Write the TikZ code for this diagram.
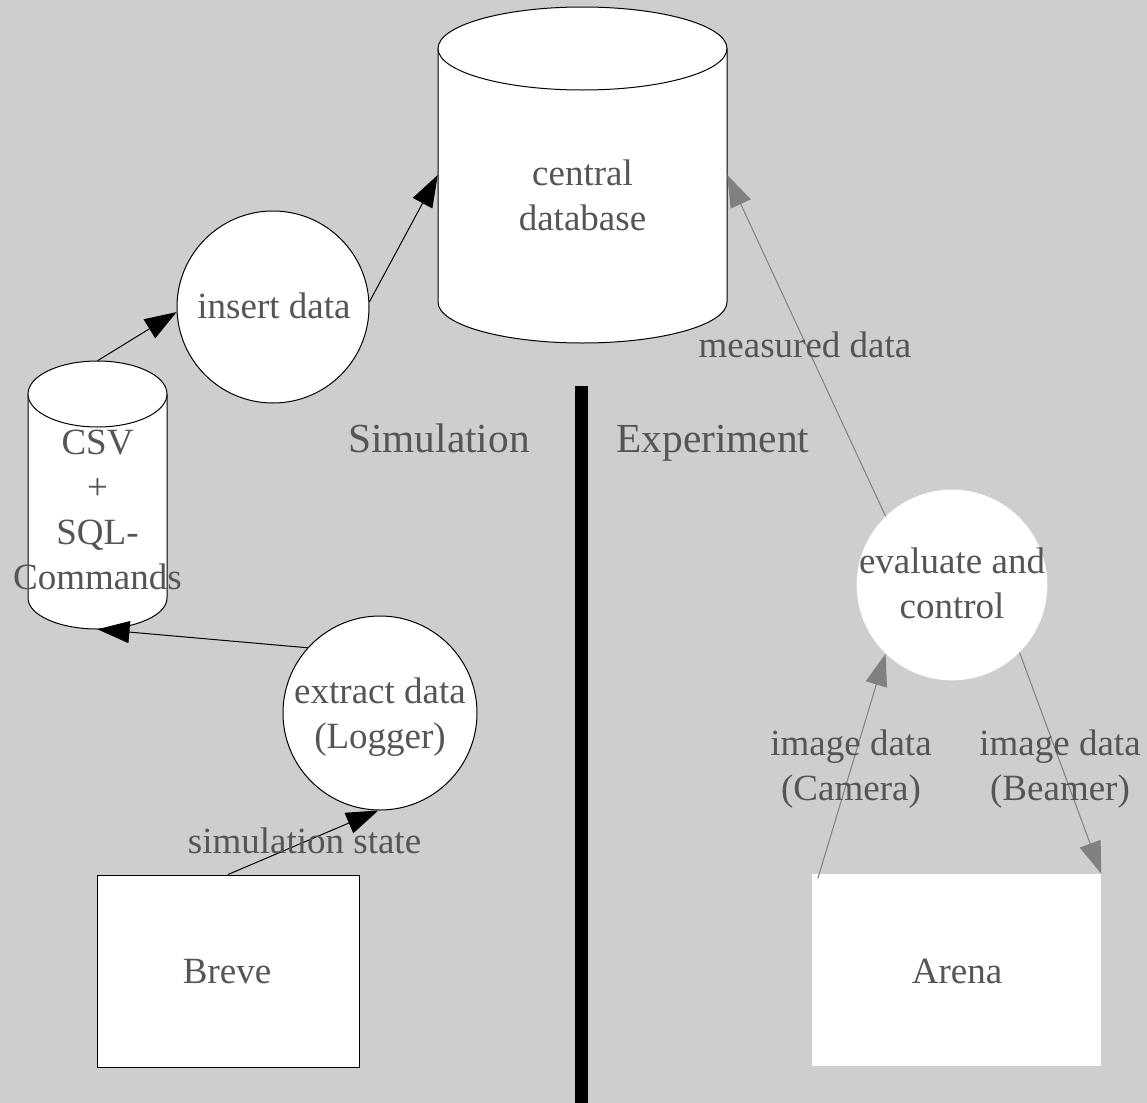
\documentclass[tikz,border=0pt]{standalone}
\usepackage{fontspec}
\setmainfont{Liberation Serif}
\usetikzlibrary{arrows.meta,calc}
\definecolor{bggray}{RGB}{206,206,206}
\definecolor{txtgray}{RGB}{85,85,85}
\definecolor{lngray}{RGB}{128,128,128}
\begin{document}
\begin{tikzpicture}[x=0.75pt,y=-0.75pt,
  lbl/.style={text=txtgray,font=\fontsize{27.75pt}{33.75pt}\selectfont,inner sep=0pt,align=center},
  big/.style={text=txtgray,font=\fontsize{31pt}{36pt}\selectfont,inner sep=0pt},
  shapebox/.style={draw=none,inner sep=0pt,rectangle},
  outl/.style={fill=white,draw=black,line width=0.75pt},
  circL/.style={circle,draw=black,fill=white,line width=0.75pt,inner sep=0pt},
  circR/.style={circle,draw=none,fill=white,inner sep=0pt},
  blk/.style={draw=black,line width=0.75pt,-{Triangle[length=24pt,width=16.5pt]}},
  gry/.style={draw=lngray,line width=0.75pt,-{Triangle[length=24pt,width=16.5pt]}}
]
% background
\fill[bggray] (0,0) rectangle (1147,1103);
\useasboundingbox (0,0) rectangle (1147,1103);

% central database cylinder
\node[shapebox, minimum width=216.75pt, minimum height=252pt] (db) at (582.5,175) {};
\filldraw[outl] (438,48.5) -- (438,302) arc[start angle=180,end angle=360,x radius=108.375pt,y radius=30.75pt] -- (727,48.5);
\filldraw[outl] (582.5,48.5) ellipse[x radius=108.375pt,y radius=31.125pt];

% CSV cylinder
\node[shapebox, minimum width=104.25pt, minimum height=201pt] (csv) at (97.5,495) {};
\filldraw[outl] (28,394) -- (28,598) arc[start angle=180,end angle=360,x radius=52.125pt,y radius=23.25pt] -- (167,394);
\filldraw[outl] (97.5,394) ellipse[x radius=52.125pt,y radius=24.75pt];

% circles
\node[circL, minimum size=144pt] (ins) at (273,307) {};
\node[circL, minimum size=145.5pt] (ex) at (380,713) {};
\node[circR, minimum size=143pt] (ev) at (952,585) {};

% boxes
\node[draw=black, fill=white, line width=0.75pt, minimum width=196.5pt, minimum height=144pt] (breve) at (228,971) {};
\node[draw=none, fill=white, minimum width=216.75pt, minimum height=144pt] (arena) at (956.5,970) {};

% divider
\fill[black] (575,386) rectangle (588,1103);

% connectors
\draw[blk] (csv.north) -- (ins.183);
\draw[blk] (ins.3) -- (db.west);
\draw[blk] (ex.138) -- (csv.south);
\draw[blk] (breve.north) -- (ex.-91);
\draw[gry] (ev.134) -- (db.east);
\draw[gry] ([shift={(6,5)}]arena.north west) -- (ev.226);
\draw[gry] (ev.-45) -- (arena.north east);

% texts
\node[lbl] (tdb) at (582.5,195) {central\\database};
\node[lbl] (tcsv) at (97.5,510) {CSV\\+\\SQL-\\Commands};
\node[lbl,anchor=base] (tins) at (274,318) {insert data};
\node[lbl] (tex) at (380,717) {extract data\\(Logger)};
\node[lbl] (tev) at (952,583) {evaluate and\\control};
\node[lbl,anchor=base] (tmeas) at (805,357) {measured data};
\node[lbl,anchor=base] (tsim) at (304.5,853) {simulation state};
\node[lbl] (tcam) at (851,769) {image data\\(Camera)};
\node[lbl] (tbeam) at (1060,769) {image data\\(Beamer)};
\node[big,anchor=base] (tsimu) at (439,452) {Simulation};
\node[big,anchor=base] (texp) at (713,452) {Experiment};
\node[lbl,anchor=base] (tbreve) at (227,983) {Breve};
\node[lbl,anchor=base] (tarena) at (957,983) {Arena};
\end{tikzpicture}
\end{document}
